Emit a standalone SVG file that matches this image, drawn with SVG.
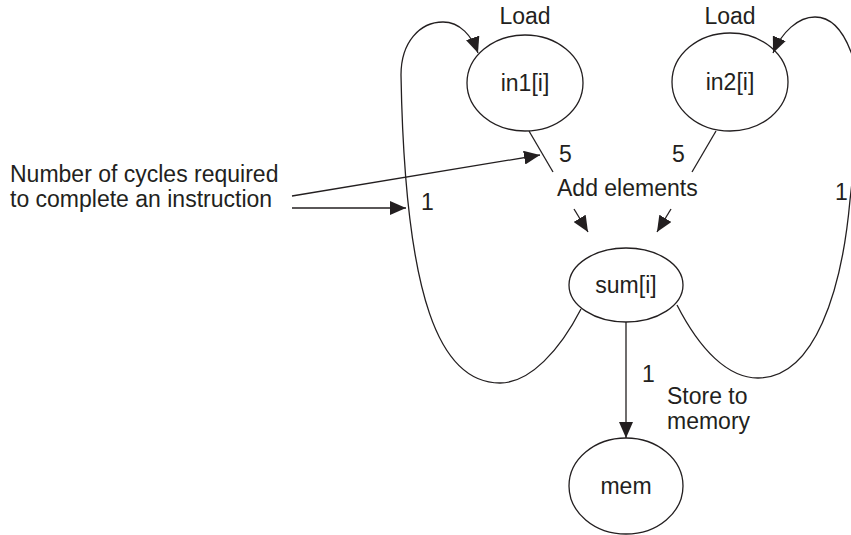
<svg xmlns="http://www.w3.org/2000/svg" width="851" height="535" viewBox="0 0 851 535">
<style>
text{font-family:"Liberation Sans",Arial,sans-serif;font-size:23px;fill:#231f20}
.n ellipse{fill:#fff;stroke:#231f20;stroke-width:1.3}
.c path,.c line{fill:none;stroke:#231f20;stroke-width:1.3}
.m{text-anchor:middle}
</style>
<defs>
<marker id="ah" markerUnits="userSpaceOnUse" markerWidth="17" markerHeight="14" refX="16" refY="7" orient="auto">
<path d="M0,0 L16,7 L0,14 z" fill="#231f20"/>
</marker>
</defs>
<g id="in1" class="n"><ellipse cx="525" cy="83" rx="58" ry="48"/><text class="m" x="525" y="91">in1[i]</text></g>
<g id="in2" class="n"><ellipse cx="730" cy="82" rx="58" ry="49"/><text class="m" x="730" y="90">in2[i]</text></g>
<g id="sum" class="n"><ellipse cx="626" cy="285" rx="57" ry="37"/><text class="m" x="626" y="293">sum[i]</text></g>
<g id="mem" class="n"><ellipse cx="626" cy="486" rx="57" ry="48"/><text class="m" x="626" y="494">mem</text></g>
<g id="connectors" class="c">
<line x1="529" y1="131" x2="553" y2="172"/>
<line x1="716" y1="131" x2="692" y2="172"/>
<line x1="574" y1="209" x2="588" y2="232" marker-end="url(#ah)"/>
<line x1="671" y1="209" x2="657" y2="232" marker-end="url(#ah)"/>
<line x1="626" y1="322" x2="626" y2="438" marker-end="url(#ah)"/>
<line x1="292" y1="196" x2="540" y2="155" marker-end="url(#ah)"/>
<line x1="292" y1="208" x2="406" y2="208" marker-end="url(#ah)"/>
<path d="M581,309 C560,350 530,383 500,383 C440,383 405,300 401,75 C401,42 420,22 443,22 C460,22 472,36 478,53" marker-end="url(#ah)"/>
<path d="M677,305 C700,350 728,378 758,378 C815,378 842,290 850,200 C857,140 863,80 851,52 C842,28 830,17 815,17 C798,17 782,32 773,53" marker-end="url(#ah)"/>
</g>
<g id="labels">
<text class="m" x="525" y="24">Load</text>
<text class="m" x="730" y="24">Load</text>
<text x="559" y="162">5</text>
<text x="672" y="162">5</text>
<text x="557" y="196">Add elements</text>
<text x="421" y="210">1</text>
<text x="835" y="200">1</text>
<text x="642" y="382">1</text>
<text x="667" y="404">Store to</text>
<text x="667" y="429">memory</text>
<text x="10" y="182">Number of cycles required</text>
<text x="10" y="207">to complete an instruction</text>
</g>
</svg>
